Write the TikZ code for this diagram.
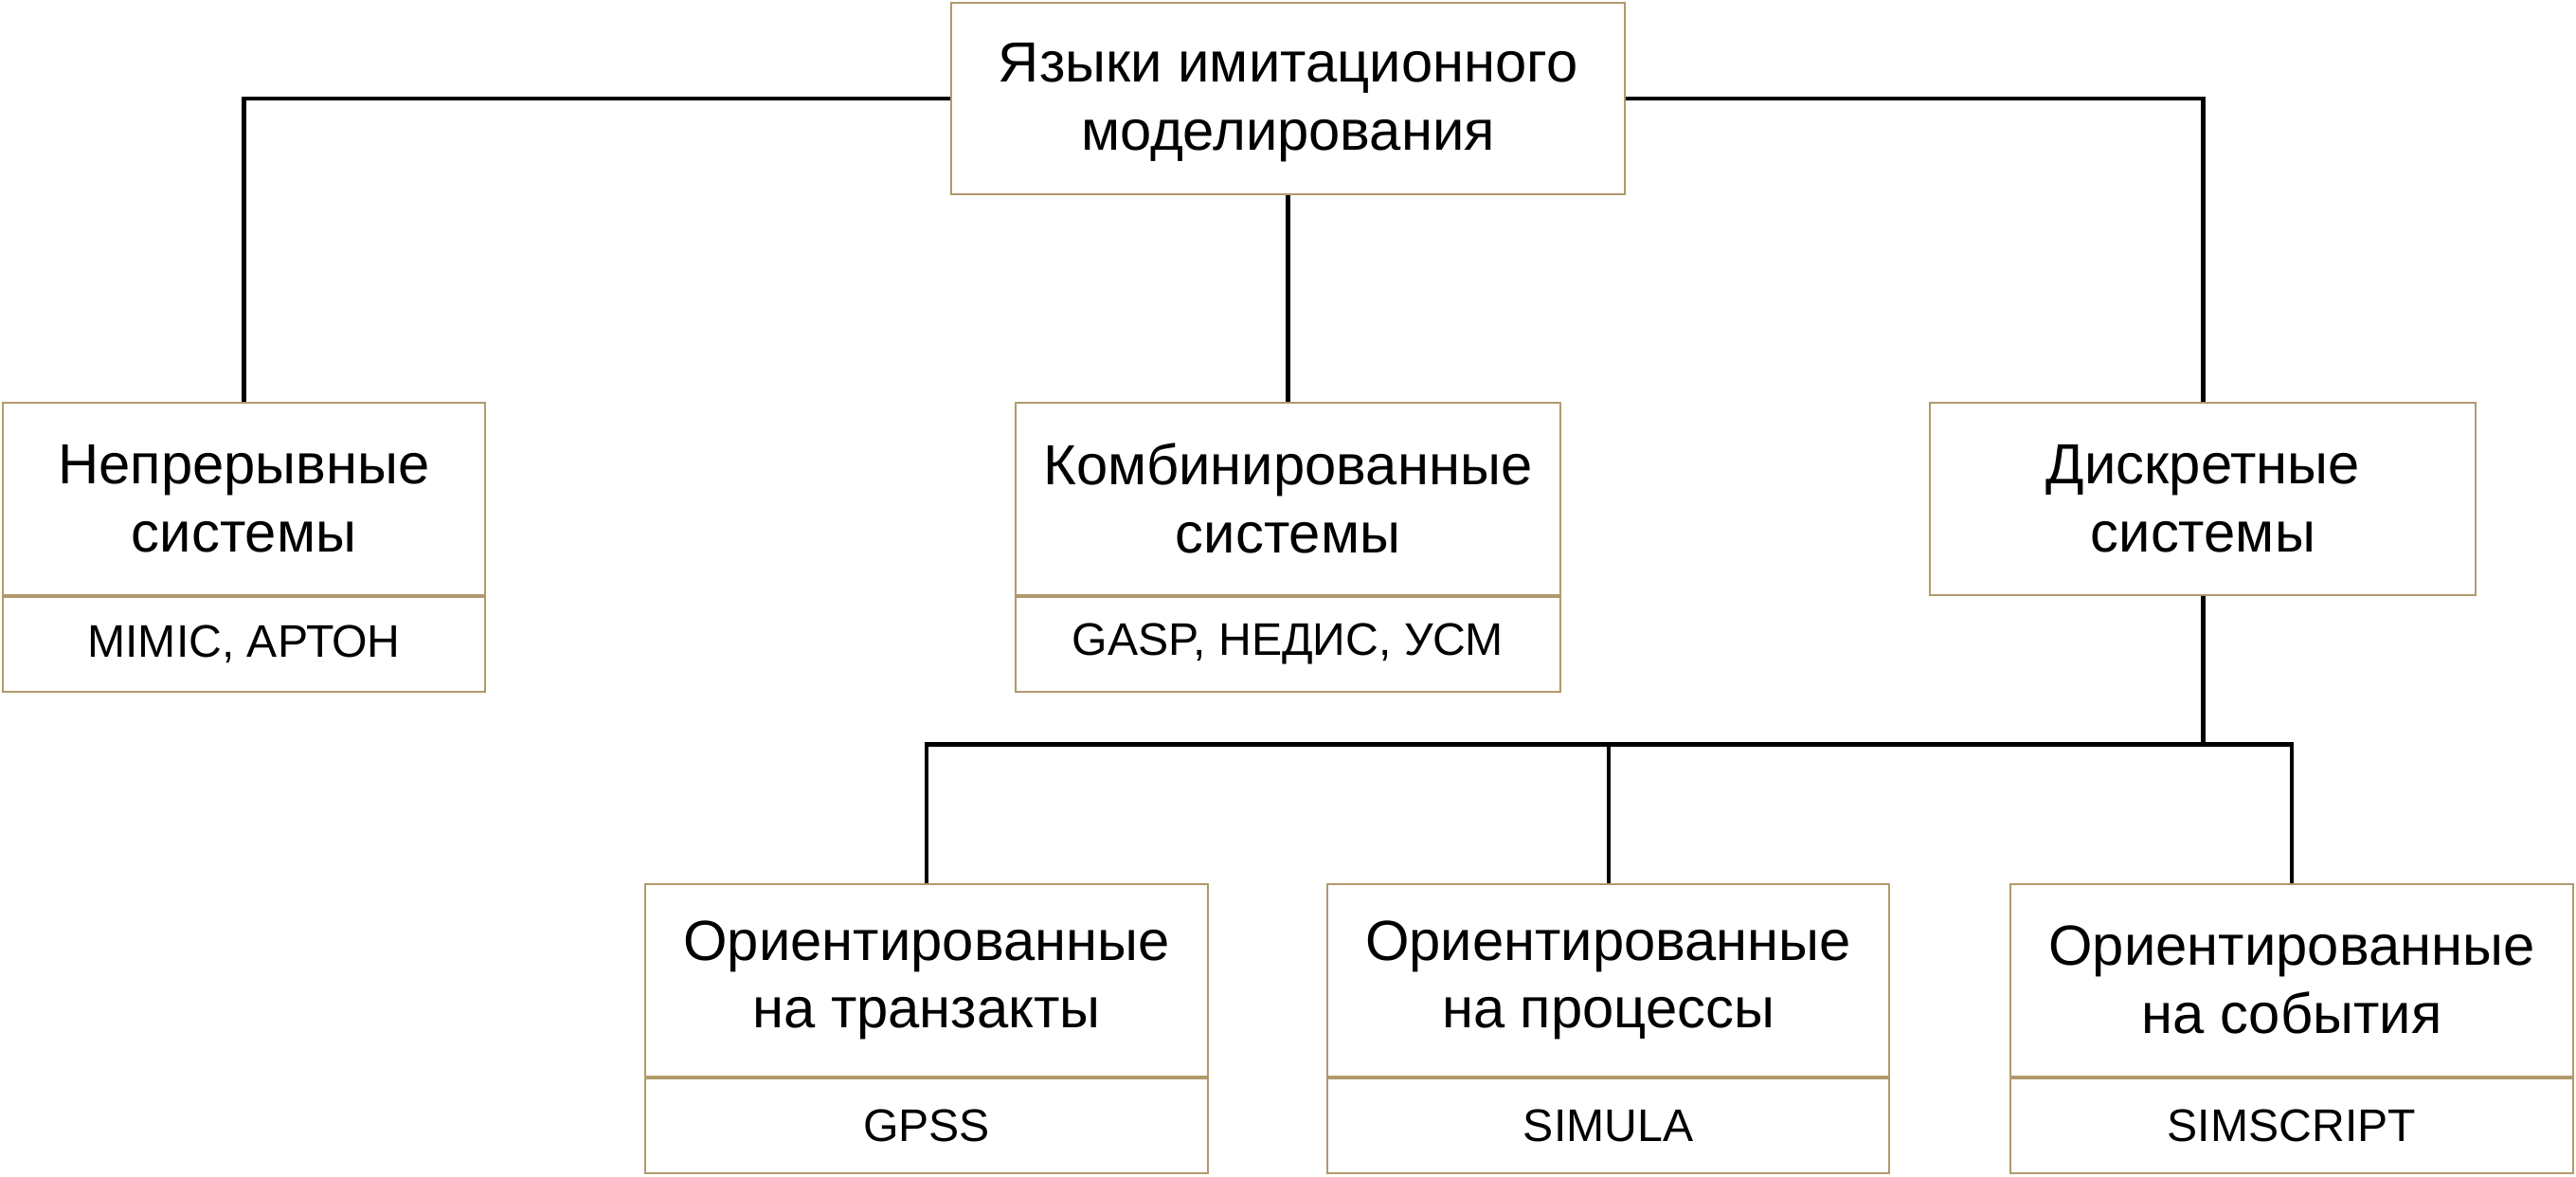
\documentclass[tikz,border=0pt]{standalone}
\usepackage{fontspec}
\setmainfont{Liberation Sans}
\usepackage{tikz}
\usetikzlibrary{positioning}
\definecolor{boxline}{HTML}{B09A6C}

\begin{document}
\begin{tikzpicture}[x=0.01cm, y=-0.01cm,
  upbox/.style={draw=boxline, line width=0.3pt, fill=white, align=center, minimum height=1.17cm, inner sep=2pt, font=\fontsize{9.8}{11.8}\selectfont},
  lowbox/.style={draw=boxline, line width=0.3pt, fill=white, align=center, minimum height=0.58cm, inner sep=2pt, font=\fontsize{7.9}{9}\selectfont},
  link/.style={draw=black, line width=0.7pt}]
  \useasboundingbox (0, 0) rectangle (1568, 716);
  \node [upbox, minimum width=4.10cm, minimum height=1.16cm, text depth=0.6pt] at (784, 60) (lang) {Языки имитационного\\моделирования};
  \node [upbox, minimum width=2.93cm] at (148.5, 303.5) (cont) {Непрерывные\\системы};
  \node [lowbox, minimum width=2.93cm, anchor=north] at (cont.south) (contL) {MIMIC, АРТОН};
  \node [upbox, minimum width=3.31cm] at (784, 303.5) (comb) {Комбинированные\\системы};
  \node [lowbox, minimum width=3.31cm, anchor=north] at (comb.south) (combL) {GASP, НЕДИС, УСМ};
  \node [upbox, minimum width=3.32cm] at (1341, 303.5) (disc) {Дискретные\\системы};
  \node [upbox, minimum width=3.42cm] at (564, 596.5) (trans) {Ориентированные\\на транзакты};
  \node [lowbox, minimum width=3.42cm, anchor=north] at (trans.south) (transL) {GPSS};
  \node [upbox, minimum width=3.42cm] at (979, 596.5) (proc) {Ориентированные\\на процессы};
  \node [lowbox, minimum width=3.42cm, anchor=north] at (proc.south) (procL) {SIMULA};
  \node [upbox, minimum width=3.42cm] at (1395, 596.5) (event) {Ориентированные\\на события};
  \node [lowbox, minimum width=3.42cm, anchor=north] at (event.south) (eventL) {SIMSCRIPT};
  \coordinate (bus) at (1341, 453);
  \draw [link] (lang.west) -| (cont.north);
  \draw [link] (lang.south) -- (comb.north);
  \draw [link] (lang.east) -| (disc.north);
  \draw [link] (disc.south) -- (bus) -| (trans.north);
  \draw [link] (bus) -| (event.north);
  \draw [link] (proc.north) -- (proc.north |- bus);
\end{tikzpicture}
\end{document}
